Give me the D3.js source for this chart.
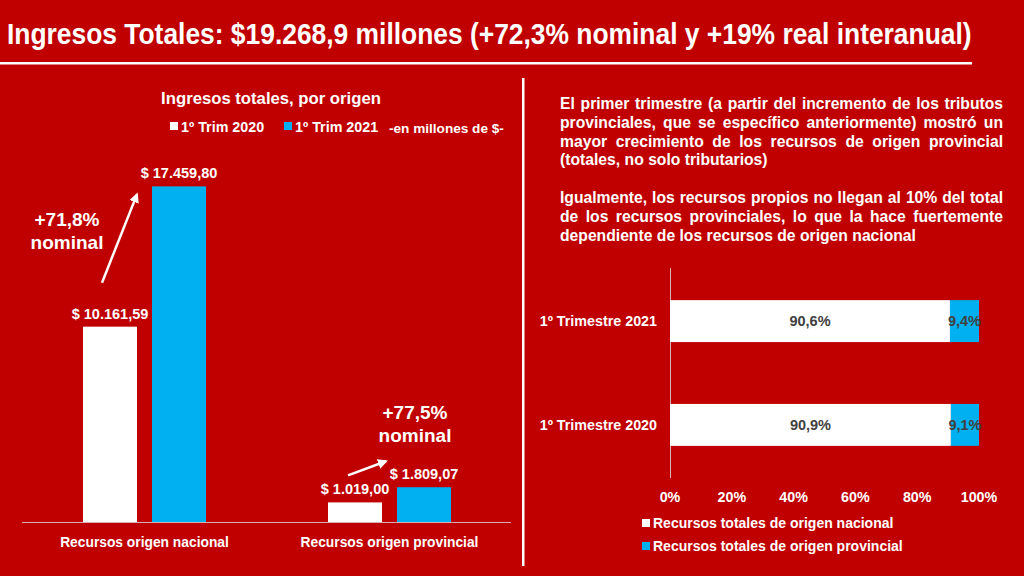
<!DOCTYPE html>
<html>
<head>
<meta charset="utf-8">
<script src="https://cdn.jsdelivr.net/npm/d3@7"></script>
<style>
  html, body { margin: 0; padding: 0; background: #c00000; }
  svg { display: block; }
</style>
</head>
<body>
<svg id="chart" width="1024" height="576"></svg>
<script>
// ---- data ----
const categories = ["Recursos origen nacional", "Recursos origen provincial"]
const periods = ["1º Trim 2020", "1º Trim 2021"]
const values2020 = [10161.59, 1019.00]
const values2021 = [17459.80, 1809.07]
const growthLabels = ["+71,8%", "+77,5%"]

const shareRows = ["1º Trimestre 2021", "1º Trimestre 2020"]
const shareNacional = [90.6, 90.9]
const shareProvincial = [9.4, 9.1]
const pctTicks = [0, 20, 40, 60, 80, 100]
const shareSeries = ["Recursos totales de origen nacional", "Recursos totales de origen provincial"]

const paragraphs = [
  ["El primer trimestre (a partir del incremento de los tributos",
   "provinciales, que se específico anteriormente) mostró un",
   "mayor crecimiento de los recursos de origen provincial",
   "(totales, no solo tributarios)"],
  ["Igualmente, los recursos propios no llegan al 10% del total",
   "de los recursos provinciales, lo que la hace fuertemente",
   "dependiente de los recursos de origen nacional"]
]

const RED = "#c00000", BLUE = "#00b0f0", WHITE = "#ffffff", GREY = "#404040"
const FONT = "'Liberation Sans', Arial, sans-serif"

const svg = d3.select("#chart")

// ---- slide title (bold, squeezed to look like a narrow face) ----
const titleG = svg.append("g")
const title = titleG.append("text")
  .attr("x", 0)
  .attr("y", 0)
  .style("font", "bold 29px " + FONT)
  .style("fill", WHITE)
  .text("Ingresos Totales: $19.268,9 millones (+72,3% nominal y +19% real interanual)")
const titleW = title.node().getComputedTextLength()
titleG.attr("transform", "translate(7,44) scale(" + (965 / titleW) + ",1)")

svg.append("rect")
  .attr("x", 0).attr("y", 62)
  .attr("width", 972).attr("height", 2.5)
  .style("fill", WHITE)

// separator
svg.append("rect")
  .attr("x", 522).attr("y", 78)
  .attr("width", 2.5).attr("height", 488)
  .style("fill", WHITE)

// ================= left: grouped bars =================
const baseY = 522
const yScale = d3.scaleLinear()
  .domain([0, 18000])
  .range([baseY, 176])

const xGroup = d3.scaleBand()
  .domain(categories)
  .range([22, 512])

const pairWidth = 123
const xInner = d3.scaleBand()
  .domain(periods)
  .range([0, pairWidth])
  .paddingInner(0.2174)

const groupStart = c => xGroup(c) + (xGroup.bandwidth() - pairWidth) / 2

const barData = []
categories.forEach((c, i) => {
  barData.push({ cat: c, period: periods[0], value: values2020[i] })
  barData.push({ cat: c, period: periods[1], value: values2021[i] })
})

const fmtMoney = v => "$ " + d3.formatLocale({ decimal: ",", thousands: ".", grouping: [3], currency: ["$", ""] }).format(",.2f")(v)

const left = svg.append("g")

left.selectAll(".bar")
  .data(barData)
  .enter().append("rect")
  .attr("class", "bar")
  .attr("x", d => groupStart(d.cat) + xInner(d.period))
  .attr("y", d => yScale(d.value))
  .attr("width", xInner.bandwidth())
  .attr("height", d => baseY - yScale(d.value))
  .style("fill", d => d.period === periods[0] ? WHITE : BLUE)

left.selectAll(".bar-label")
  .data(barData)
  .enter().append("text")
  .attr("class", "bar-label")
  .attr("text-anchor", "middle")
  .attr("x", d => groupStart(d.cat) + xInner(d.period) + xInner.bandwidth() / 2)
  .attr("y", d => yScale(d.value) - 8)
  .style("font", "bold 14.5px " + FONT)
  .style("fill", WHITE)
  .text(d => fmtMoney(d.value))

// baseline
left.append("line")
  .attr("x1", 22).attr("x2", 511)
  .attr("y1", baseY + 0.5).attr("y2", baseY + 0.5)
  .style("stroke", "#d9b0b0")
  .style("stroke-width", 1)

left.selectAll(".cat-label")
  .data(categories)
  .enter().append("text")
  .attr("class", "cat-label")
  .attr("text-anchor", "middle")
  .attr("x", d => xGroup(d) + xGroup.bandwidth() / 2)
  .attr("y", 547)
  .style("font", "bold 13.8px " + FONT)
  .style("fill", WHITE)
  .text(d => d)

// chart title + legend
left.append("text")
  .attr("text-anchor", "middle")
  .attr("x", 271)
  .attr("y", 104)
  .style("font", "bold 16.7px " + FONT)
  .style("fill", WHITE)
  .text("Ingresos totales, por origen")

const legX = [170, 284]
periods.forEach((p, i) => {
  left.append("rect")
    .attr("x", legX[i]).attr("y", 122)
    .attr("width", 8).attr("height", 8)
    .style("fill", i === 0 ? WHITE : BLUE)
  left.append("text")
    .attr("x", legX[i] + 11)
    .attr("y", 132)
    .style("font", "bold 14.3px " + FONT)
    .style("fill", WHITE)
    .text(p)
})
left.append("text")
  .attr("x", 389)
  .attr("y", 133)
  .style("font", "bold 13.6px " + FONT)
  .style("fill", WHITE)
  .text("-en millones de $-")

// growth annotations with arrows
svg.append("defs").append("marker")
  .attr("id", "arrow")
  .attr("viewBox", "0 0 10 10")
  .attr("refX", 8).attr("refY", 5)
  .attr("markerWidth", 4).attr("markerHeight", 4)
  .attr("orient", "auto")
  .append("path")
  .attr("d", "M0,0 L10,5 L0,10 z")
  .style("fill", WHITE)

const annot = [
  { // nacional
    x: 67, y: 226,
    from: [groupStart(categories[0]) + xInner(periods[0]) + 19, yScale(values2020[0]) - 44],
    to: [groupStart(categories[0]) + xInner(periods[1]) - 15, yScale(values2021[0]) + 8]
  },
  { // provincial
    x: 415, y: 419,
    from: [groupStart(categories[1]) + xInner(periods[0]) + 20, yScale(values2020[1]) - 27],
    to: [groupStart(categories[1]) + xInner(periods[1]) - 11, yScale(values2021[1]) - 26]
  }
]

annot.forEach((a, i) => {
  const t = left.append("text")
    .attr("text-anchor", "middle")
    .attr("x", a.x)
    .attr("y", a.y)
    .style("font", "bold 19px " + FONT)
    .style("fill", WHITE)
  t.append("tspan").attr("x", a.x).text(growthLabels[i])
  t.append("tspan").attr("x", a.x).attr("dy", 23).text("nominal")

  left.append("line")
    .attr("x1", a.from[0]).attr("y1", a.from[1])
    .attr("x2", a.to[0]).attr("y2", a.to[1])
    .style("stroke", WHITE)
    .style("stroke-width", 2.5)
    .attr("marker-end", "url(#arrow)")
})

// ================= right: justified text =================
const para = svg.append("g")
const textX0 = 560, textX1 = 1003
const lineBase = [[109, 128, 146.5, 165], [203, 222, 241]]

paragraphs.forEach((lines, pi) => {
  lines.forEach((line, li) => {
    const words = line.split(" ")
    const isLast = li === lines.length - 1
    const nodes = words.map(w => para.append("text")
      .attr("y", lineBase[pi][li])
      .style("font", "bold 15.7px " + FONT)
      .style("fill", WHITE)
      .text(w))
    const widths = nodes.map(n => n.node().getComputedTextLength())
    const total = d3.sum(widths)
    const space = isLast ? 4.4 : (textX1 - textX0 - total) / (words.length - 1)
    let x = textX0
    nodes.forEach((n, k) => {
      n.attr("x", x)
      x += widths[k] + space
    })
  })
})

// ================= right: 100% stacked bars =================
const xPct = d3.scaleLinear()
  .domain([0, 100])
  .range([670, 979])

const yRow = d3.scaleBand()
  .domain(shareRows)
  .range([269, 477])
  .paddingInner(0.596)
  .paddingOuter(0.3)

const stackData = shareRows.map((r, i) => ({ row: r, nac: shareNacional[i], prov: shareProvincial[i] }))
const fmtPct = v => d3.format(".1f")(v).replace(".", ",") + "%"

const right = svg.append("g")

right.append("line")
  .attr("x1", 670.5).attr("x2", 670.5)
  .attr("y1", 268).attr("y2", 478)
  .style("stroke", "#d9b0b0")
  .style("stroke-width", 1)

right.selectAll(".nac")
  .data(stackData)
  .enter().append("rect")
  .attr("class", "nac")
  .attr("x", xPct(0))
  .attr("y", d => yRow(d.row))
  .attr("width", d => xPct(d.nac) - xPct(0))
  .attr("height", yRow.bandwidth())
  .style("fill", WHITE)

right.selectAll(".prov")
  .data(stackData)
  .enter().append("rect")
  .attr("class", "prov")
  .attr("x", d => xPct(d.nac))
  .attr("y", d => yRow(d.row))
  .attr("width", d => xPct(d.nac + d.prov) - xPct(d.nac))
  .attr("height", yRow.bandwidth())
  .style("fill", BLUE)

right.selectAll(".nac-label")
  .data(stackData)
  .enter().append("text")
  .attr("class", "nac-label")
  .attr("text-anchor", "middle")
  .attr("x", d => xPct(d.nac / 2))
  .attr("y", d => yRow(d.row) + yRow.bandwidth() / 2 + 5)
  .style("font", "bold 14.5px " + FONT)
  .style("fill", GREY)
  .text(d => fmtPct(d.nac))

right.selectAll(".prov-label")
  .data(stackData)
  .enter().append("text")
  .attr("class", "prov-label")
  .attr("text-anchor", "middle")
  .attr("x", d => xPct(d.nac + d.prov / 2))
  .attr("y", d => yRow(d.row) + yRow.bandwidth() / 2 + 5)
  .style("font", "bold 14.5px " + FONT)
  .style("fill", GREY)
  .text(d => fmtPct(d.prov))

right.selectAll(".row-label")
  .data(shareRows)
  .enter().append("text")
  .attr("class", "row-label")
  .attr("text-anchor", "end")
  .attr("x", 657)
  .attr("y", d => yRow(d) + yRow.bandwidth() / 2 + 5)
  .style("font", "bold 14.3px " + FONT)
  .style("fill", WHITE)
  .text(d => d)

right.selectAll(".tick-label")
  .data(pctTicks)
  .enter().append("text")
  .attr("class", "tick-label")
  .attr("text-anchor", "middle")
  .attr("x", d => xPct(d))
  .attr("y", 502)
  .style("font", "bold 14.3px " + FONT)
  .style("fill", WHITE)
  .text(d => d + "%")

shareSeries.forEach((s, i) => {
  right.append("rect")
    .attr("x", 642).attr("y", 519 + i * 23)
    .attr("width", 8).attr("height", 8)
    .style("fill", i === 0 ? WHITE : BLUE)
  right.append("text")
    .attr("x", 653)
    .attr("y", 528 + i * 23)
    .style("font", "bold 14px " + FONT)
    .style("fill", WHITE)
    .text(s)
})
</script>
</body>
</html>
